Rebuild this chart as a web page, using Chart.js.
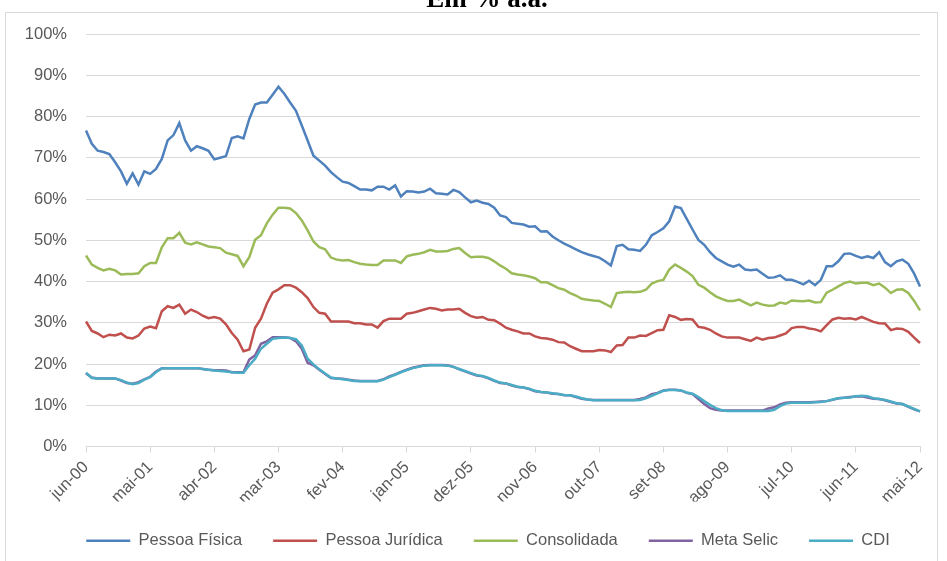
<!DOCTYPE html>
<html lang="pt-BR">
<head>
<meta charset="utf-8">
<title>Taxas de juros</title>
<script src="https://cdn.jsdelivr.net/npm/chart.js@4.4.0/dist/chart.umd.min.js"></script>
<style>
  html, body { margin: 0; padding: 0; background: #fff; overflow: hidden; }
  #moldura { position: absolute; left: 5px; top: 12px; width: 931px; height: 560px; border: 1px solid #d9d9d9; }
  #grafico { position: absolute; left: 0; top: 0; }
</style>
</head>
<body>
<div id="moldura"></div>
<canvas id="grafico" width="947" height="561"></canvas>
<script>
// meses de jun-00 a mai-12
const meses = ["jan", "fev", "mar", "abr", "mai", "jun", "jul", "ago", "set", "out", "nov", "dez"];
const rotulos = [];
for (let i = 0; i < 144; i++) {
  const m = 5 + i;
  rotulos.push(meses[m % 12] + "-" + String(Math.floor(m / 12)).padStart(2, "0"));
}

const pessoaFisica = [
  76.6, 73.4, 71.7, 71.4, 70.9, 68.9, 66.7, 63.7, 66.2, 63.5, 66.7, 66.1,
  67.3, 69.7, 74.2, 75.5, 78.4, 74.2, 71.7, 72.8, 72.3, 71.7, 69.6, 70.0,
  70.4, 74.8, 75.2, 74.7, 79.4, 82.9, 83.4, 83.4, 85.3, 87.2, 85.5, 83.4,
  81.4, 77.8, 74.2, 70.5, 69.3, 68.1, 66.5, 65.3, 64.2, 63.9, 63.1, 62.3,
  62.3, 62.1, 63.0, 63.0, 62.3, 63.3, 60.6, 61.9, 61.8, 61.6, 61.8, 62.5,
  61.4, 61.3, 61.1, 62.2, 61.7, 60.4, 59.2, 59.6, 59.1, 58.8, 57.9, 56.0,
  55.6, 54.2, 54.0, 53.8, 53.3, 53.4, 52.1, 52.2, 50.9, 50.0, 49.2, 48.5,
  47.8, 47.1, 46.6, 46.2, 45.8, 44.9, 43.9, 48.6, 48.9, 47.8, 47.7, 47.4,
  48.9, 51.2, 52.0, 52.9, 54.6, 58.2, 57.8, 55.2, 52.6, 50.1, 48.9, 47.1,
  45.7, 44.9, 44.1, 43.6, 44.1, 42.9, 42.7, 42.9, 41.9, 40.9, 41.0, 41.5,
  40.4, 40.4, 39.9, 39.3, 40.2, 39.1, 40.4, 43.7, 43.7, 44.9, 46.7, 46.8,
  46.2, 45.7, 46.1, 45.7, 47.1, 44.7, 43.7, 44.9, 45.3, 44.3, 41.9, 38.8
];

const pessoaJuridica = [
  30.3, 28.0, 27.4, 26.5, 27.1, 26.9, 27.4, 26.4, 26.2, 26.9, 28.6, 29.1,
  28.7, 32.8, 34.0, 33.6, 34.4, 32.2, 33.2, 32.6, 31.7, 31.1, 31.4, 31.0,
  29.6, 27.5, 25.9, 23.1, 23.5, 28.8, 31.0, 34.6, 37.3, 38.1, 39.1, 39.1,
  38.5, 37.4, 36.0, 33.8, 32.4, 32.2, 30.3, 30.3, 30.3, 30.3, 29.9, 29.9,
  29.6, 29.6, 28.8, 30.4, 31.0, 31.0, 31.0, 32.2, 32.4, 32.8, 33.2, 33.6,
  33.4, 33.0, 33.2, 33.2, 33.4, 32.4, 31.6, 31.2, 31.4, 30.7, 30.6, 29.8,
  28.8, 28.3, 27.9, 27.4, 27.4, 26.7, 26.3, 26.2, 25.9, 25.3, 25.2, 24.3,
  23.7, 23.1, 23.1, 23.1, 23.4, 23.3, 22.9, 24.5, 24.6, 26.4, 26.4, 26.9,
  26.8, 27.5, 28.2, 28.3, 31.8, 31.4, 30.7, 30.9, 30.8, 29.0, 28.8, 28.3,
  27.4, 26.7, 26.4, 26.4, 26.4, 26.0, 25.6, 26.4, 25.9, 26.3, 26.4, 26.9,
  27.4, 28.7, 29.0, 29.0, 28.6, 28.4, 27.9, 29.4, 30.8, 31.2, 31.0, 31.1,
  30.8, 31.4, 30.8, 30.2, 29.9, 29.8, 28.2, 28.6, 28.5, 27.8, 26.4, 25.1
];

const consolidada = [
  46.3, 44.1, 43.3, 42.7, 43.1, 42.7, 41.7, 41.8, 41.8, 42.0, 43.7, 44.5,
  44.5, 48.3, 50.5, 50.5, 51.8, 49.4, 49.0, 49.5, 49.0, 48.5, 48.3, 48.1,
  47.0, 46.6, 46.2, 43.7, 45.9, 50.1, 51.2, 54.1, 56.2, 57.9, 57.9, 57.7,
  56.6, 54.8, 52.4, 49.7, 48.3, 47.8, 45.8, 45.3, 45.1, 45.2, 44.7, 44.3,
  44.1, 44.0, 44.0, 45.1, 45.1, 45.1, 44.5, 46.1, 46.5, 46.7, 47.1, 47.7,
  47.3, 47.3, 47.4, 47.9, 48.1, 46.9, 45.9, 46.0, 46.0, 45.7, 44.9, 43.9,
  43.1, 42.0, 41.7, 41.5, 41.2, 40.8, 39.8, 39.8, 39.1, 38.4, 38.0, 37.2,
  36.6, 35.8, 35.6, 35.4, 35.3, 34.6, 33.8, 37.2, 37.4, 37.5, 37.4, 37.5,
  38.0, 39.5, 40.1, 40.4, 42.9, 44.1, 43.3, 42.4, 41.3, 39.2, 38.5, 37.4,
  36.4, 35.8, 35.3, 35.3, 35.6, 34.9, 34.2, 34.9, 34.4, 34.1, 34.2, 34.9,
  34.6, 35.4, 35.3, 35.2, 35.4, 34.9, 35.0, 37.3, 38.0, 38.8, 39.6, 40.0,
  39.5, 39.7, 39.7, 39.1, 39.5, 38.5, 37.2, 38.0, 38.1, 37.2, 35.3, 33.0
];

const metaSelic = [
  17.7, 16.7, 16.5, 16.5, 16.5, 16.5, 16.0, 15.4, 15.2, 15.6, 16.3, 16.9,
  18.2, 19.0, 19.0, 19.0, 19.0, 19.0, 19.0, 19.0, 18.8, 18.6, 18.5, 18.5,
  18.4, 18.0, 18.0, 18.0, 21.1, 22.1, 24.9, 25.5, 26.5, 26.5, 26.5, 26.3,
  25.5, 23.7, 20.3, 19.7, 18.6, 17.6, 16.6, 16.5, 16.4, 16.2, 16.0, 15.9,
  15.9, 15.9, 15.9, 16.3, 17.0, 17.5, 18.1, 18.6, 19.1, 19.4, 19.7, 19.75,
  19.75, 19.75, 19.7, 19.3, 18.7, 18.2, 17.7, 17.2, 17.0, 16.5, 15.9, 15.4,
  15.3, 14.8, 14.4, 14.3, 13.9, 13.4, 13.2, 13.1, 12.8, 12.7, 12.4, 12.4,
  12.0, 11.6, 11.4, 11.25, 11.25, 11.25, 11.25, 11.25, 11.25, 11.25, 11.25, 11.5,
  11.9, 12.7, 13.0, 13.6, 13.75, 13.75, 13.6, 13.0, 12.7, 11.5, 10.3, 9.3,
  8.9, 8.7, 8.7, 8.7, 8.7, 8.7, 8.7, 8.7, 8.7, 9.2, 9.5, 10.2,
  10.6, 10.7, 10.7, 10.7, 10.7, 10.8, 10.9, 11.0, 11.3, 11.7, 11.8, 12.0,
  12.1, 12.2, 11.9, 11.6, 11.5, 11.2, 10.8, 10.4, 10.3, 9.6, 9.0, 8.5
];

const cdi = [
  17.9, 16.6, 16.5, 16.5, 16.5, 16.5, 16.1, 15.5, 15.1, 15.4, 16.2, 16.8,
  18.0, 18.9, 19.0, 19.0, 19.0, 19.0, 19.0, 19.0, 18.8, 18.6, 18.4, 18.3,
  18.2, 18.0, 17.9, 17.9, 19.7, 21.3, 23.7, 24.9, 26.1, 26.3, 26.4, 26.3,
  26.0, 24.5, 21.3, 19.9, 18.7, 17.7, 16.7, 16.5, 16.3, 16.1, 15.9, 15.8,
  15.8, 15.8, 15.8, 16.2, 16.8, 17.4, 18.0, 18.5, 19.0, 19.3, 19.6, 19.7,
  19.7, 19.7, 19.6, 19.3, 18.8, 18.3, 17.8, 17.3, 17.1, 16.6, 16.0, 15.5,
  15.3, 14.9, 14.5, 14.3, 14.0, 13.5, 13.2, 13.1, 12.9, 12.7, 12.5, 12.4,
  12.1, 11.7, 11.4, 11.2, 11.2, 11.2, 11.2, 11.2, 11.2, 11.2, 11.2, 11.3,
  11.7, 12.3, 12.9, 13.5, 13.7, 13.7, 13.6, 13.1, 12.8, 12.0, 11.0, 10.1,
  9.3, 8.8, 8.6, 8.6, 8.6, 8.6, 8.6, 8.6, 8.6, 8.6, 8.9, 9.8,
  10.4, 10.6, 10.6, 10.6, 10.6, 10.7, 10.8, 11.0, 11.4, 11.7, 11.8, 11.9,
  12.2, 12.3, 12.2, 11.7, 11.5, 11.3, 10.9, 10.5, 10.3, 9.7, 9.1, 8.5
];

const cinza = "#595959";
const linhaGrade = "#d9d9d9";
const fonte = { family: "'Liberation Sans', Arial, sans-serif", size: 16.5 };

function serie(nome, dados, cor, ordem) {
  return {
    label: nome,
    data: dados,
    borderColor: cor,
    backgroundColor: cor,
    borderWidth: 2.5,
    pointRadius: 0,
    tension: 0,
    order: ordem
  };
}

// título em negrito, cortado pela borda de cima
const tituloTopo = {
  id: "tituloTopo",
  afterDraw(chart) {
    const ctx = chart.ctx;
    ctx.save();
    ctx.font = "bold 27px 'Liberation Serif', 'Times New Roman', serif";
    ctx.fillStyle = "#000";
    ctx.textAlign = "center";
    ctx.textBaseline = "alphabetic";
    ctx.fillText("Em % a.a.", 487, 7);
    ctx.restore();
  }
};

// a legenda fica centrada sob a área do gráfico, não sob o canvas inteiro
const legendaDesloc = {
  id: "legendaDesloc",
  afterLayout(chart) {
    chart.legend.left += 28;
    chart.legend.right += 28;
  }
};

new Chart(document.getElementById("grafico"), {
  type: "line",
  data: {
    labels: rotulos,
    datasets: [
      serie("Pessoa Física", pessoaFisica, "#4f81bd", 4),
      serie("Pessoa Jurídica", pessoaJuridica, "#c0504d", 3),
      serie("Consolidada", consolidada, "#9bbb59", 2),
      serie("Meta Selic", metaSelic, "#8064a2", 1),
      serie("CDI", cdi, "#4bacc6", 0)
    ]
  },
  options: {
    responsive: false,
    animation: false,
    devicePixelRatio: 1,
    layout: { padding: { left: 0, right: 27, top: 34, bottom: 2 } },
    plugins: {
      tooltip: { enabled: false },
      legend: {
        position: "bottom",
        labels: {
          usePointStyle: true,
          pointStyle: "line",
          pointStyleWidth: 44,
          padding: 31,
          color: cinza,
          font: fonte,
          sort: (a, b) => a.datasetIndex - b.datasetIndex
        }
      }
    },
    scales: {
      x: {
        afterFit(scale) { scale.height = 55; },
        grid: {
          drawOnChartArea: false,
          tickLength: 6,
          color: (c) => (c.index % 11 === 0 ? linhaGrade : "rgba(0,0,0,0)")
        },
        border: { color: linhaGrade },
        ticks: {
          autoSkip: false,
          maxRotation: 45,
          minRotation: 45,
          padding: 5,
          color: cinza,
          font: fonte,
          callback: (v, i) => (i % 11 === 0 ? rotulos[i] : "")
        }
      },
      y: {
        min: 0,
        max: 100,
        afterFit(scale) { scale.width = 86; },
        grid: { color: linhaGrade, drawTicks: false },
        border: { display: false },
        ticks: {
          stepSize: 10,
          padding: 19,
          color: cinza,
          font: fonte,
          callback: (v) => v + "%"
        }
      }
    }
  },
  plugins: [tituloTopo, legendaDesloc]
});
</script>
</body>
</html>
